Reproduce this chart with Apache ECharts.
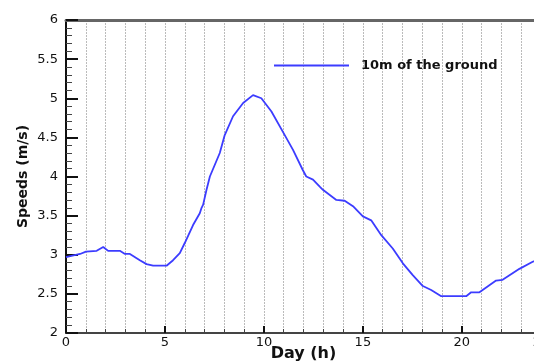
<!DOCTYPE html>
<html>
<head>
<meta charset="utf-8">
<script src="https://cdn.jsdelivr.net/npm/echarts@6/dist/echarts.min.js"></script>
<style>
  html, body { margin: 0; padding: 0; background: #fff; }
  #main { width: 534px; height: 361px; }
</style>
</head>
<body>
<div id="main"></div>
<script>
// hours of the day
var hours = [0, 0.71, 1.01, 1.55, 1.88, 2.13, 2.72, 2.98, 3.23, 3.73, 4.07, 4.4, 5.08, 5.41, 5.75,
  6.0, 6.42, 6.76, 6.85, 6.93, 7.1, 7.27, 7.77, 8.02, 8.44, 8.95, 9.45, 9.87, 10.38, 10.96,
  11.47, 11.97, 12.14, 12.48, 12.82, 12.98, 13.66, 14.08, 14.5, 15.0, 15.42, 15.93, 16.51,
  17.02, 17.52, 18.03, 18.45, 18.96, 20.22, 20.47, 20.89, 21.73, 22.06, 22.91, 23.58, 24];
// wind speed at 10 m (m/s)
var speeds = [2.97, 3.01, 3.04, 3.05, 3.1, 3.05, 3.05, 3.01, 3.01, 2.93, 2.88, 2.86, 2.86, 2.93, 3.02,
  3.15, 3.38, 3.53, 3.6, 3.64, 3.83, 4.0, 4.3, 4.53, 4.77, 4.94, 5.04, 5.0, 4.83, 4.57,
  4.34, 4.08, 4.0, 3.96, 3.87, 3.83, 3.7, 3.69, 3.62, 3.49, 3.44, 3.25, 3.08,
  2.89, 2.74, 2.6, 2.55, 2.47, 2.47, 2.52, 2.52, 2.67, 2.68, 2.82, 2.91, 2.96];
var seriesName = '10m of the ground';

var font = 'DejaVu Sans, sans-serif';
var myChart = echarts.init(document.getElementById('main'));
myChart.setOption({
  animation: false,
  grid: { left: 66, top: 20, right: -7, bottom: 28, outerBoundsMode: 'none', containLabel: false },
  legend: {
    left: 269,
    top: 54,
    itemWidth: 75,
    itemHeight: 2,
    icon: 'rect',
    data: [seriesName],
    textStyle: { fontFamily: font, fontWeight: 'bold', fontSize: 13, color: '#111', padding: [0, 0, 0, 7] }
  },
  xAxis: [{
    type: 'value',
    min: 0,
    max: 24,
    interval: 5,
    name: 'Day (h)',
    nameLocation: 'middle',
    nameGap: 13,
    nameMoveOverlap: false,
    nameTextStyle: { fontFamily: font, fontWeight: 'bold', fontSize: 16, color: '#111' },
    axisLine: { show: true, onZero: false, lineStyle: { color: '#444', width: 2 } },
    axisTick: { show: true, inside: true, length: 7, lineStyle: { color: '#111', width: 2 } },
    minorTick: { show: true, splitNumber: 5, length: 4, lineStyle: { color: '#444', width: 1 } },
    axisLabel: { margin: 3, fontFamily: font, fontSize: 13, color: '#111' },
    splitLine: { show: true, lineStyle: { color: '#bbb', type: [2, 1], width: 1 } },
    minorSplitLine: { show: true, lineStyle: { color: '#bbb', type: [2, 1], width: 1 } }
  }, {
    type: 'value',
    position: 'top',
    min: 0,
    max: 24,
    axisLine: { show: true, lineStyle: { color: '#666', width: 3 } },
    axisTick: { show: false },
    axisLabel: { show: false },
    splitLine: { show: false }
  }],
  yAxis: {
    type: 'value',
    min: 2,
    max: 6,
    interval: 0.5,
    name: 'Speeds (m/s)',
    nameLocation: 'middle',
    nameGap: 36,
    nameMoveOverlap: false,
    nameTextStyle: { fontFamily: font, fontWeight: 'bold', fontSize: 14, color: '#111' },
    axisLine: { show: true, lineStyle: { color: '#111', width: 2 } },
    axisTick: { show: true, inside: true, length: 12, lineStyle: { color: '#111', width: 2 } },
    minorTick: { show: true, splitNumber: 5, length: 6, lineStyle: { color: '#444', width: 1 } },
    axisLabel: { margin: 8, fontFamily: font, fontSize: 13, color: '#111' },
    splitLine: { show: false }
  },
  series: [{
    name: seriesName,
    type: 'line',
    symbol: 'none',
    data: hours.map(function (h, i) { return [h, speeds[i]]; }),
    lineStyle: { color: '#3c3cff', width: 1.8 },
    itemStyle: { color: '#3c3cff' }
  }]
});
</script>
</body>
</html>
